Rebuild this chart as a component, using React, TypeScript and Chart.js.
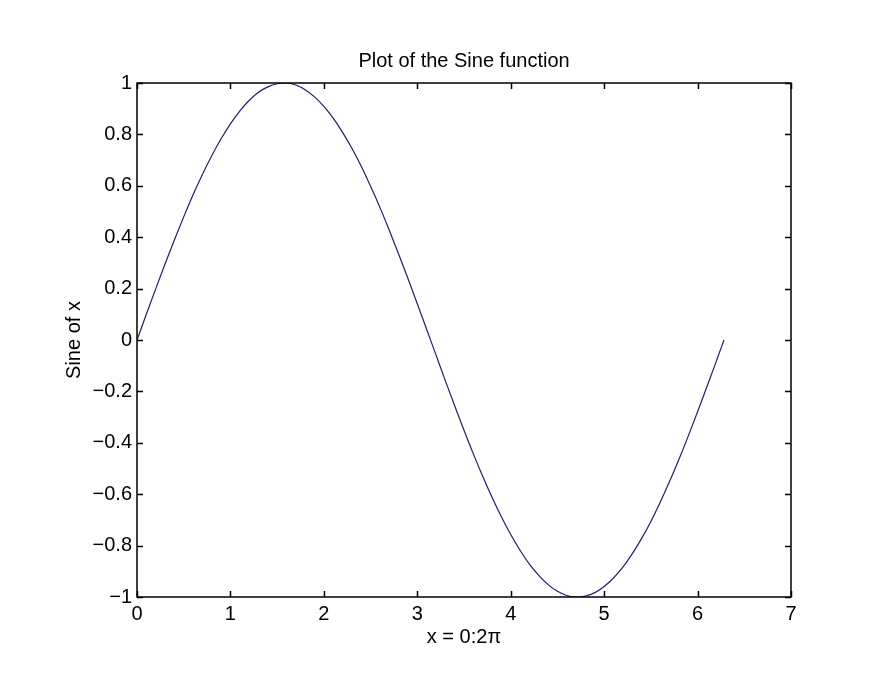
import React, { useEffect, useRef } from "react";
import { Chart, registerables } from "chart.js";

Chart.register(...registerables);

const titleText = "Plot of the Sine function";
const xAxisLabel = "x = 0:2\u03c0";
const yAxisLabel = "Sine of x";

const xValues = [
  0.0, 0.1, 0.2, 0.3, 0.4, 0.5, 0.6, 0.7, 0.8, 0.9,
  1.0, 1.1, 1.2, 1.3, 1.4, 1.5, 1.6, 1.7, 1.8, 1.9,
  2.0, 2.1, 2.2, 2.3, 2.4, 2.5, 2.6, 2.7, 2.8, 2.9,
  3.0, 3.1, 3.2, 3.3, 3.4, 3.5, 3.6, 3.7, 3.8, 3.9,
  4.0, 4.1, 4.2, 4.3, 4.4, 4.5, 4.6, 4.7, 4.8, 4.9,
  5.0, 5.1, 5.2, 5.3, 5.4, 5.5, 5.6, 5.7, 5.8, 5.9,
  6.0, 6.1, 6.2, 6.283,
];

const yValues = [
  0.0, 0.1, 0.199, 0.296, 0.389, 0.479, 0.565, 0.644, 0.717, 0.783,
  0.841, 0.891, 0.932, 0.964, 0.985, 0.997, 1.0, 0.992, 0.974, 0.946,
  0.909, 0.863, 0.808, 0.746, 0.676, 0.598, 0.516, 0.427, 0.335, 0.239,
  0.141, 0.042, -0.058, -0.158, -0.256, -0.351, -0.443, -0.53, -0.612, -0.688,
  -0.757, -0.818, -0.872, -0.916, -0.952, -0.978, -0.994, -1.0, -0.996, -0.983,
  -0.959, -0.926, -0.884, -0.832, -0.773, -0.706, -0.631, -0.551, -0.465, -0.374,
  -0.279, -0.182, -0.083, 0.0,
];

const FONT = "'Liberation Sans', Arial, Helvetica, sans-serif";

const boxTicks = {
  id: "boxTicks",
  afterDraw(chart: any) {
    const { ctx, chartArea } = chart;
    const { left, right, top, bottom } = chartArea;
    const xs = chart.scales.x;
    const ys = chart.scales.y;
    const len = 6;
    ctx.save();
    ctx.strokeStyle = "#000";
    ctx.lineWidth = 1.5;
    ctx.beginPath();
    xs.ticks.forEach((t: any) => {
      const px = Math.round(xs.getPixelForValue(t.value)) + 0.5;
      ctx.moveTo(px, bottom);
      ctx.lineTo(px, bottom - len);
      ctx.moveTo(px, top);
      ctx.lineTo(px, top + len);
    });
    ys.ticks.forEach((t: any) => {
      const py = Math.round(ys.getPixelForValue(t.value)) + 0.5;
      ctx.moveTo(left, py);
      ctx.lineTo(left + len, py);
      ctx.moveTo(right, py);
      ctx.lineTo(right - len, py);
    });
    ctx.stroke();
    ctx.strokeRect(left, top, right - left, bottom - top);
    // title centered over the plot box
    ctx.fillStyle = "#000";
    ctx.font = `20px ${FONT}`;
    ctx.textAlign = "center";
    ctx.textBaseline = "middle";
    ctx.fillText(titleText, (left + right) / 2, 61);
    ctx.restore();
  },
};

export default function App() {
  const canvasRef = useRef<HTMLCanvasElement | null>(null);

  useEffect(() => {
    document.body.style.margin = "0";
    const canvas = canvasRef.current;
    if (!canvas) return;
    const points = xValues.map((x, i) => ({ x, y: yValues[i] }));
    const chart = new Chart(canvas, {
      type: "scatter",
      data: {
        datasets: [
          {
            data: points,
            showLine: true,
            borderColor: "#1f1f70",
            borderWidth: 1.2,
            pointRadius: 0,
            cubicInterpolationMode: "monotone",
          },
        ],
      },
      plugins: [boxTicks],
      options: {
        animation: false,
        responsive: false,
        devicePixelRatio: 1,
        layout: { padding: { left: 62, right: 79, top: 83, bottom: 37 } },
        plugins: {
          legend: { display: false },
          tooltip: { enabled: false },
          title: { display: false },
        },
        scales: {
          x: {
            type: "linear",
            min: 0,
            max: 7,
            ticks: {
              stepSize: 1,
              color: "#000",
              padding: 5,
              font: { family: FONT, size: 20 },
            },
            grid: { display: false, drawTicks: false },
            border: { display: false },
            title: {
              display: true,
              text: xAxisLabel,
              color: "#000",
              font: { family: FONT, size: 20 },
              padding: { top: 0, bottom: 0 },
            },
            afterFit(scale: any) {
              scale.height = 52;
            },
          },
          y: {
            type: "linear",
            min: -1,
            max: 1,
            ticks: {
              stepSize: 0.2,
              color: "#000",
              padding: 5,
              font: { family: FONT, size: 20 },
              callback: (v: any) =>
                Number(Number(v).toFixed(1)).toString().replace("-", "\u2212"),
            },
            grid: { display: false, drawTicks: false },
            border: { display: false },
            title: {
              display: true,
              text: yAxisLabel,
              color: "#000",
              font: { family: FONT, size: 20 },
              padding: { top: 0, bottom: 0 },
            },
            afterFit(scale: any) {
              scale.width = 75;
            },
          },
        },
      },
    });
    return () => chart.destroy();
  }, []);

  return (
    <div style={{ width: 870, height: 686, background: "#fff" }}>
      <canvas ref={canvasRef} width={870} height={686} />
    </div>
  );
}
